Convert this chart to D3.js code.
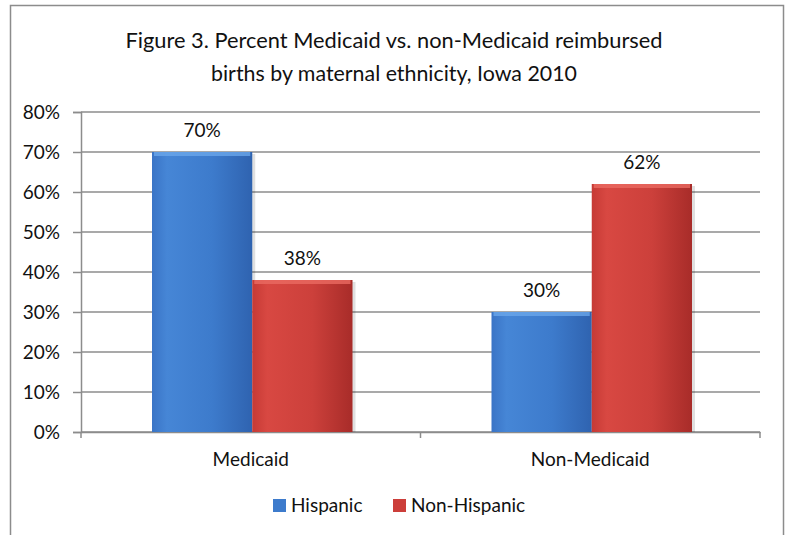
<!DOCTYPE html>
<html>
<head>
<meta charset="utf-8">
<script src="https://cdn.jsdelivr.net/npm/d3@7"></script>
<style>
  body { margin: 0; background: #fff; }
  text { font-family: Lato, "Open Sans", sans-serif; fill: #111; }
</style>
</head>
<body>
<div id="chart-area"></div>
<script>
// data
const categories = ['Medicaid', 'Non-Medicaid'];
const seriesNames = ['Hispanic', 'Non-Hispanic'];
const hispanic = [70, 30];
const nonHispanic = [38, 62];
const yTicks = [0, 10, 20, 30, 40, 50, 60, 70, 80];
const titleLines = ['Figure 3. Percent Medicaid vs. non-Medicaid reimbursed',
  'births by maternal ethnicity, Iowa 2010'];

const W = 789, H = 535;
const margins = { top: 112, left: 81, right: 29, bottom: 103 };
const width = W - margins.left - margins.right;
const height = H - margins.top - margins.bottom;
const fontSize = '19px';

const svg = d3.select('#chart-area').append('svg')
  .attr('width', W).attr('height', H);

// gradients for the bevelled bars
const defs = svg.append('defs');
const makeGrad = (id, stops) => {
  const g = defs.append('linearGradient').attr('id', id)
    .attr('x1', 0).attr('x2', 1).attr('y1', 0).attr('y2', 0);
  stops.forEach(([o, c]) => g.append('stop').attr('offset', o).attr('stop-color', c));
};
makeGrad('gBlue', [[0, '#3a74c6'], [0.15, '#4686d6'], [0.6, '#3d7bcc'], [1, '#2f63b0']]);
makeGrad('gRed', [[0, '#c63a35'], [0.15, '#d84842'], [0.6, '#cc403b'], [1, '#a82c29']]);
const fills = ['url(#gBlue)', 'url(#gRed)'];
const topFills = ['#6aa6ea', '#ea6a62'];
const legendFills = ['#3d7bcc', '#cc3e3a'];

// outer frame
svg.append('rect')
  .attr('x', 10.5).attr('y', 5.5).attr('width', 773).attr('height', 560)
  .attr('fill', 'none').attr('stroke', '#8c8c8c').attr('stroke-width', 1.5);

// title
svg.append('g').selectAll('text').data(titleLines).enter().append('text')
  .attr('x', 394).attr('y', (d, i) => 48 + i * 33)
  .attr('text-anchor', 'middle')
  .attr('font-size', '22px')
  .attr('textLength', (d, i) => i === 0 ? 537 : 366)
  .attr('lengthAdjust', 'spacingAndGlyphs')
  .text(d => d);

const g = svg.append('g').attr('transform', `translate(${margins.left}, ${margins.top})`);

// scales
const x0 = d3.scaleBand().domain(categories).range([0, width]);
const x1 = d3.scaleBand().domain(seriesNames).range([71, x0.bandwidth() - 68]);
const y = d3.scaleLinear().domain([0, 80]).range([height, 0]);

// gridlines
g.append('g').selectAll('line').data(yTicks).enter().append('line')
  .attr('x1', 0).attr('x2', width)
  .attr('y1', d => y(d)).attr('y2', d => y(d))
  .attr('stroke', '#8c8c8c').attr('stroke-width', 1.5);

// y axis
const yAxis = g.append('g').call(d3.axisLeft(y).tickValues(yTicks)
  .tickSize(8).tickPadding(13).tickFormat(d => d + '%'));
yAxis.select('.domain').attr('stroke', '#8c8c8c').attr('stroke-width', 1.5);
yAxis.selectAll('.tick line').attr('stroke', '#8c8c8c').attr('stroke-width', 1.5);
yAxis.selectAll('.tick text').attr('font-size', fontSize).attr('fill', '#111')
  .attr('font-family', 'Lato, sans-serif');

// x axis
const xAxis = g.append('g').attr('transform', `translate(0, ${height})`)
  .call(d3.axisBottom(x0).tickSize(0).tickPadding(21));
xAxis.select('.domain').attr('stroke', '#8c8c8c').attr('stroke-width', 1.5);
xAxis.selectAll('.tick text').attr('font-size', fontSize).attr('fill', '#111')
  .attr('font-family', 'Lato, sans-serif');
// category boundary ticks
g.append('g').selectAll('line').data([0, x0.step(), width]).enter().append('line')
  .attr('x1', d => d).attr('x2', d => d)
  .attr('y1', height).attr('y2', height + 6)
  .attr('stroke', '#8c8c8c').attr('stroke-width', 1.5);

// bars
const rows = categories.map((c, i) => ({
  cat: c,
  vals: [{ s: seriesNames[0], v: hispanic[i], k: 0 }, { s: seriesNames[1], v: nonHispanic[i], k: 1 }]
}));
const groups = g.selectAll('.grp').data(rows).enter().append('g')
  .attr('class', 'grp')
  .attr('transform', d => `translate(${x0(d.cat)}, 0)`);

const bars = groups.selectAll('.bar').data(d => d.vals).enter().append('g').attr('class', 'bar');
// soft shadow
bars.append('rect')
  .attr('x', d => x1(d.s) + 3).attr('y', d => y(d.v) + 2)
  .attr('width', x1.bandwidth()).attr('height', d => height - y(d.v) - 2)
  .attr('fill', '#000').attr('fill-opacity', 0.12);
bars.append('rect')
  .attr('x', d => x1(d.s)).attr('y', d => y(d.v))
  .attr('width', x1.bandwidth()).attr('height', d => height - y(d.v))
  .attr('fill', d => fills[d.k]);
bars.append('rect')
  .attr('x', d => x1(d.s) + 2).attr('y', d => y(d.v))
  .attr('width', x1.bandwidth() - 4).attr('height', 4)
  .attr('fill', d => topFills[d.k]).attr('fill-opacity', 0.8);

// value labels
bars.append('text')
  .attr('x', d => x1(d.s) + x1.bandwidth() / 2)
  .attr('y', d => y(d.v) - 15)
  .attr('text-anchor', 'middle')
  .attr('font-size', fontSize)
  .text(d => d.v + '%');

// legend
const legendX = [273, 393];
const legend = svg.append('g').selectAll('g').data(seriesNames).enter().append('g')
  .attr('transform', (d, i) => `translate(${legendX[i]}, 499)`);
legend.append('rect').attr('width', 13).attr('height', 13)
  .attr('fill', (d, i) => legendFills[i]);
legend.append('text').attr('x', 18).attr('y', 13)
  .attr('font-size', fontSize).text(d => d);
</script>
</body>
</html>
